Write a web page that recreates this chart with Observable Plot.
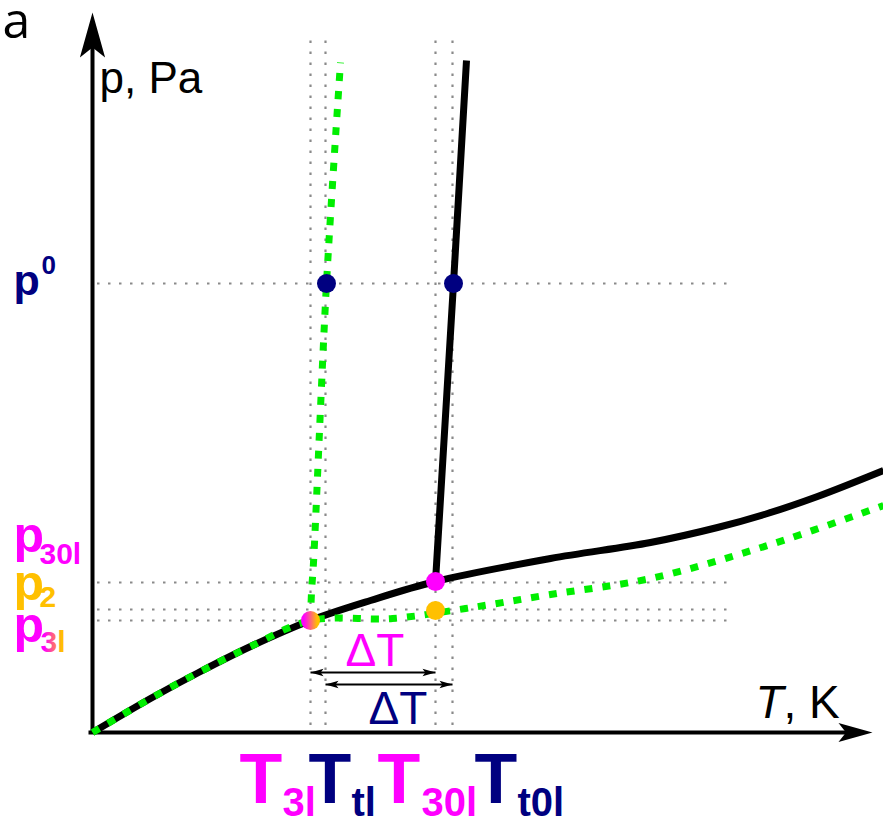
<!DOCTYPE html>
<html><head><meta charset="utf-8">
<script src="https://cdn.jsdelivr.net/npm/d3@7"></script>
<script src="https://cdn.jsdelivr.net/npm/@observablehq/plot@0.6"></script>
<style>html,body{margin:0;padding:0;background:#fff;} #chart svg{display:block;background:#fff}</style>
</head><body><div id="chart"></div>
<script>
// ---- Data (schematic units: T and p measured from the origin of the axes) ----
const bulkLV_T   = [0, 58, 108, 158, 218, 278, 343, 458, 558, 625, 675, 725, 791];
const bulkLV_p   = [0, 34, 61, 86, 112, 132, 151, 174, 190, 205, 219, 236, 262];
const bulkMelt_T = [343, 361, 374];
const bulkMelt_p = [151, 449, 672];
const confLV_T   = [0, 58, 108, 158, 218, 300, 373, 458, 558, 675, 791];
const confLV_p   = [0, 34, 61, 86, 112, 114, 124, 138, 154, 187, 227];
const confMelt_T = [218, 219, 221, 234, 248];
const confMelt_p = [112, 140, 170, 449, 670];

const tTickValues = [218, 233, 343, 360];
const tTickSubs   = ["3l", "tl", "30l", "t0l"];
const pTickValues = [449, 150, 123, 112];
const pTickSubs   = ["0", "30l", "2", "3l"];

const pointT    = [234, 361, 343, 343, 218];
const pointP    = [449, 449, 151, 122, 112];
const pointKind = ["p0", "p0", "p30l", "p2", "p3l"];

const deltaFrom = [218, 233];
const deltaTo   = [343, 360];
const deltaP    = [60, 48];

const axisTopP = 720;   // end of p axis
const axisEndT = 780;   // end of T axis
const gridTop = 700, gridBottom = 7, gridLeft = 5, gridRight = 640;

// ---- styles ----
const MAG = "#ff00ff", NAVY = "#000080", GOLD = "#ffc000", GREEN = "#00ee00";
const pointColor = {p0: NAVY, p30l: MAG, p2: GOLD, p3l: "url(#mg)"};
const tTickColor = [MAG, NAVY, MAG, NAVY];
const pTickColor = [NAVY, MAG, GOLD, MAG];
const pSubColor  = [NAVY, MAG, GOLD, "url(#mg)"];

const rows = (T, p) => T.map((t, i) => ({T: t, p: p[i]}));

const arrowHead = {
  draw(ctx, size) {
    const L = Math.sqrt(size / Math.PI);
    const w = 0.28 * L, n = 0.22 * L;
    ctx.moveTo(0, 0); ctx.lineTo(w, L); ctx.lineTo(0, L - n); ctx.lineTo(-w, L); ctx.closePath();
  }
};

const defs = () => {
  const d = d3.create("svg:defs");
  const g = d.append("linearGradient").attr("id", "mg").attr("x1", "0").attr("x2", "1").attr("y1", "0").attr("y2", "0");
  g.append("stop").attr("offset", "15%").attr("stop-color", MAG);
  g.append("stop").attr("offset", "85%").attr("stop-color", GOLD);
  return d.node();
};

const font = "Liberation Sans, Arial, sans-serif";
const hGrid = pTickValues.map(p => ({p}));
const vGrid = tTickValues.map(T => ({T}));
const points = pointT.map((t, i) => ({T: t, p: pointP[i], kind: pointKind[i]}));
const deltas = deltaFrom.map((a, i) => ({a, b: deltaTo[i], p: deltaP[i], mid: (a + deltaTo[i]) / 2}));

// layout offsets of the labels (pixels)
const tMainDx = [-71, -17, -58, 22];
const tSubDx  = [-28, 26, -14, 65];
const pMainDy = [11, -31, -10, 21];
const pSubDy  = [-10, -19, -3, 31];
const pMainSize = [43, 50, 50, 50];
const pSubSize  = [26, 30, 30, 30];
const pSubDx    = [41, 39, 39, 40];

const lineStyle = {x: "T", y: "p", strokeLinecap: "butt", strokeLinejoin: "round"};

const marks = [
  defs,
  // dotted guide lines
  Plot.ruleY(hGrid, {y: "p", x1: gridLeft, x2: gridRight, stroke: "#8a8a8a", strokeWidth: 2.2, strokeDasharray: "2.5,8.5"}),
  Plot.ruleX(vGrid, {x: "T", y1: gridBottom, y2: gridTop, stroke: "#8a8a8a", strokeWidth: 2.2, strokeDasharray: "2.5,8.5"}),
  // axes
  Plot.line([{T: 0, p: 0}, {T: 0, p: axisTopP - 20}], {...lineStyle, stroke: "black", strokeWidth: 4}),
  Plot.line([{T: -4, p: 0}, {T: axisEndT - 20, p: 0}], {...lineStyle, stroke: "black", strokeWidth: 4}),
  Plot.dot([{T: 0, p: axisTopP}], {x: "T", y: "p", r: 45, symbol: arrowHead, fill: "black", stroke: "none"}),
  Plot.dot([{T: axisEndT, p: 0}], {x: "T", y: "p", r: 34, symbol: arrowHead, fill: "black", stroke: "none", rotate: 90}),
  // bulk curves (black)
  Plot.line(rows(bulkLV_T, bulkLV_p), {...lineStyle, stroke: "black", strokeWidth: 7, curve: "catmull-rom"}),
  Plot.line(rows(bulkMelt_T, bulkMelt_p), {...lineStyle, stroke: "black", strokeWidth: 7}),
  // confined curves (green dotted)
  Plot.line(rows(confLV_T, confLV_p), {...lineStyle, stroke: GREEN, strokeWidth: 7, strokeDasharray: "8,10", curve: "catmull-rom"}),
  Plot.line(rows(confMelt_T, confMelt_p), {...lineStyle, stroke: GREEN, strokeWidth: 7, strokeDasharray: "8,10", curve: "catmull-rom"}),
  // ΔT arrows
  Plot.link(deltas, {x1: "a", x2: "b", y1: "p", y2: "p", stroke: "black", strokeWidth: 2}),
  Plot.dot(deltas, {x: "a", y: "p", r: 13, symbol: arrowHead, fill: "black", stroke: "none", rotate: -90}),
  Plot.dot(deltas, {x: "b", y: "p", r: 13, symbol: arrowHead, fill: "black", stroke: "none", rotate: 90}),
  Plot.text([deltas[0]], {x: "mid", y: "p", text: () => "ΔT", fill: MAG, fontSize: 46, fontFamily: font, lineAnchor: "bottom", dx: 2, dy: -7}),
  Plot.text([deltas[1]], {x: "mid", y: "p", text: () => "ΔT", fill: NAVY, fontSize: 46, fontFamily: font, lineAnchor: "bottom", dx: 9, dy: 39}),
  // points
  Plot.dot(points.filter(d => d.kind === "p0"), {x: "T", y: "p", r: 9.5, fill: NAVY, stroke: "none"}),
  Plot.dot(points.filter(d => d.kind === "p30l"), {x: "T", y: "p", r: 9.5, fill: MAG, stroke: "none"}),
  Plot.dot(points.filter(d => d.kind === "p2"), {x: "T", y: "p", r: 9.5, fill: GOLD, stroke: "none"}),
  Plot.dot(points.filter(d => d.kind === "p3l"), {x: "T", y: "p", r: 9.5, fill: pointColor.p3l, stroke: "none"}),
  // axis titles
  Plot.text(["a"], {frameAnchor: "top-left", text: d => d, fontSize: 50, fontFamily: "Open Sans, sans-serif", fill: "black", textAnchor: "start", lineAnchor: "bottom", dx: 2, dy: 37}),
  Plot.text([{T: 0, p: axisTopP}], {x: "T", y: "p", text: () => "p, Pa", fontSize: 44, fontFamily: font, fill: "black", textAnchor: "start", lineAnchor: "bottom", dx: 7, dy: 80}),
  Plot.text([{T: axisEndT, p: 0}], {x: "T", y: "p", text: () => "T", fontSize: 46, fontStyle: "italic", fontFamily: font, fill: "black", textAnchor: "start", lineAnchor: "bottom", dx: -117, dy: -15}),
  Plot.text([{T: axisEndT, p: 0}], {x: "T", y: "p", text: () => ", K", fontSize: 46, fontFamily: font, fill: "black", textAnchor: "start", lineAnchor: "bottom", dx: -89, dy: -15}),
  // T tick labels
  ...tTickValues.flatMap((t, i) => [
    Plot.text([t], {x: d => d, frameAnchor: "bottom", text: () => "T", fontSize: 70, fontWeight: "bold", fontFamily: font, fill: tTickColor[i], textAnchor: "start", lineAnchor: "bottom", dx: tMainDx[i], dy: -14}),
    Plot.text([t], {x: d => d, frameAnchor: "bottom", text: () => tTickSubs[i], fontSize: 40, fontWeight: "bold", fontFamily: font, fill: tTickColor[i], textAnchor: "start", lineAnchor: "bottom", dx: tSubDx[i], dy: -1})
  ]),
  // p tick labels
  ...pTickValues.flatMap((p, i) => [
    Plot.text([p], {y: d => d, frameAnchor: "left", text: () => "p", fontSize: pMainSize[i], fontWeight: "bold", fontFamily: font, fill: pTickColor[i], textAnchor: "start", lineAnchor: "bottom", dx: 13, dy: pMainDy[i]}),
    Plot.text([p], {y: d => d, frameAnchor: "left", text: () => pTickSubs[i], fontSize: pSubSize[i], fontWeight: "bold", fontFamily: font, fill: pSubColor[i], textAnchor: "start", lineAnchor: "bottom", dx: pSubDx[i], dy: pSubDy[i]})
  ])
];

const chart = Plot.plot({
  width: 883, height: 816, margin: 0,
  x: {domain: [-92, 791], axis: null},
  y: {domain: [-84, 732], axis: null},
  style: {background: "white", overflow: "visible"},
  marks
});
document.getElementById("chart").appendChild(chart);
</script>
</body></html>
